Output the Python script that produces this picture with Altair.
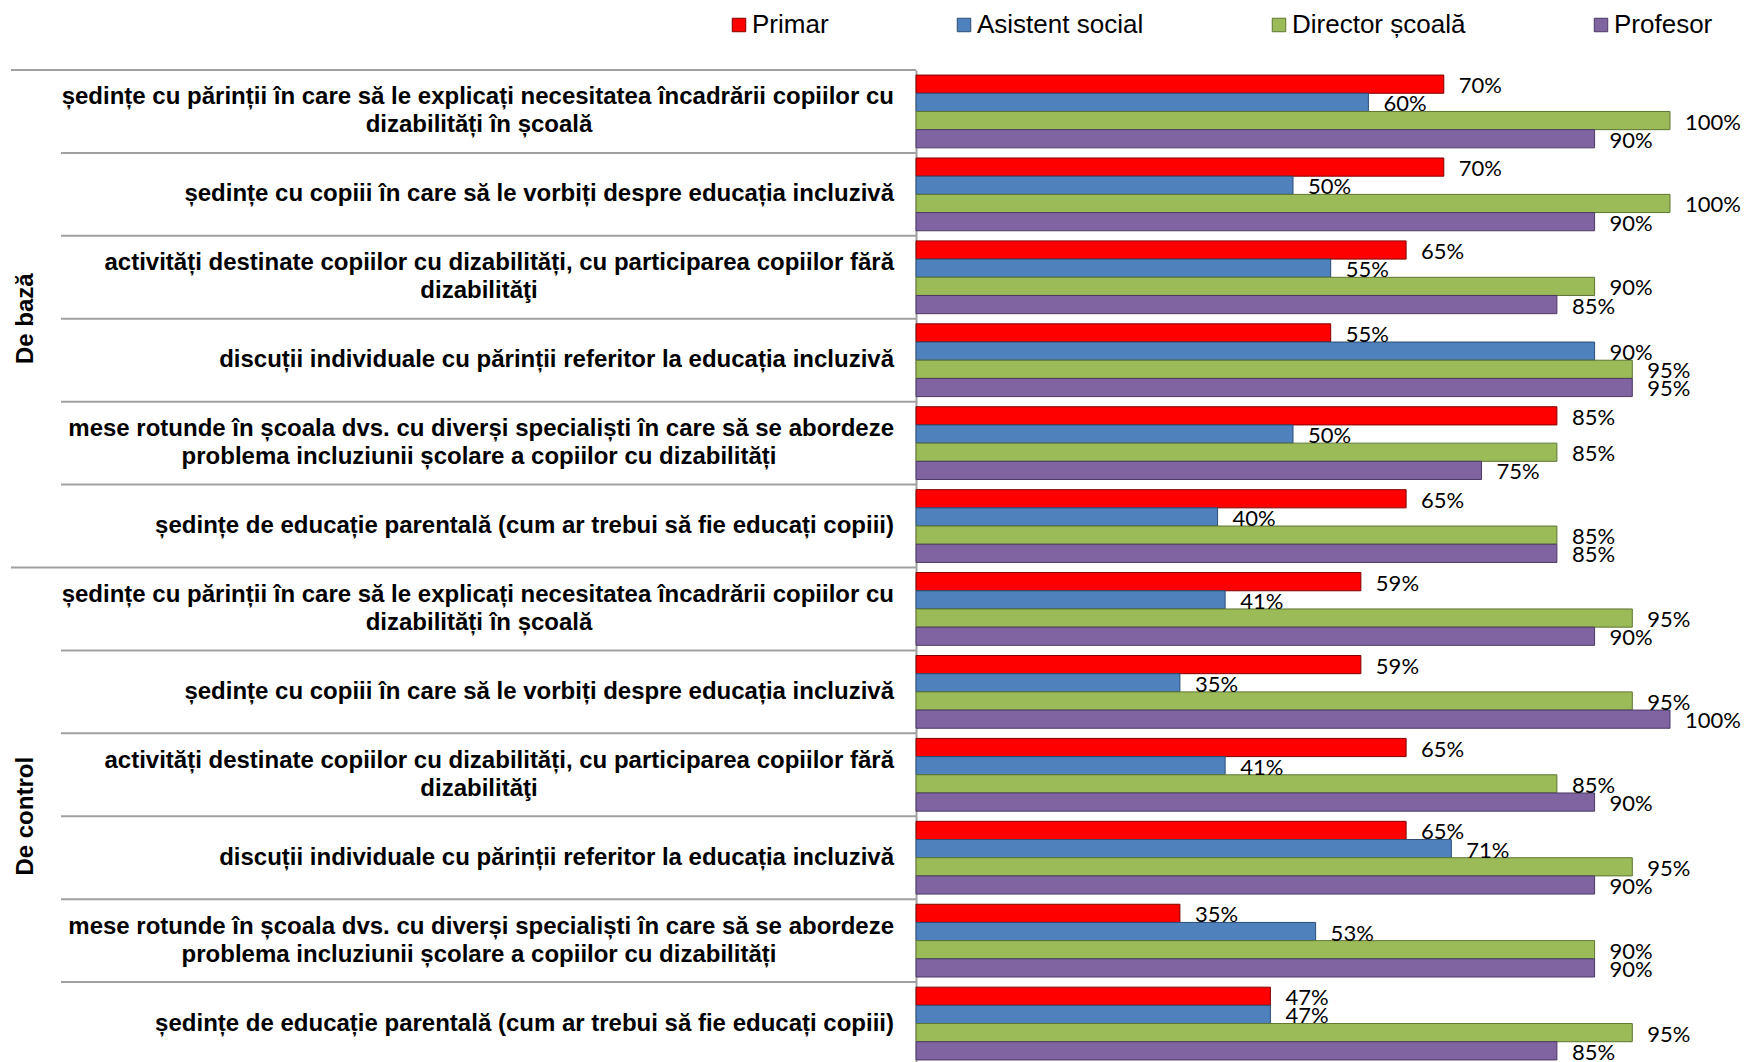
import altair as alt
import pandas as pd

groups = ["De bază", "De control"]
cat_line1 = [
    "ședințe cu părinții în care să le explicați necesitatea încadrării copiilor cu",
    "ședințe cu copiii în care să le vorbiți despre educația incluzivă",
    "activități destinate copiilor cu dizabilități, cu participarea copiilor fără",
    "discuții individuale cu părinții referitor la educația incluzivă",
    "mese rotunde în școala dvs. cu diverși specialiști în care să se abordeze",
    "ședințe de educație parentală (cum ar trebui să fie educați copiii)",
]
cat_line2 = [
    "dizabilități în școală",
    "",
    "dizabilităţi",
    "",
    "problema incluziunii școlare a copiilor cu dizabilități",
    "",
]
series = ["Primar", "Asistent social", "Director școală", "Profesor"]

primar_baza = [70, 70, 65, 55, 85, 65]
asistent_baza = [60, 50, 55, 90, 50, 40]
director_baza = [100, 100, 90, 95, 85, 85]
profesor_baza = [90, 90, 85, 95, 75, 85]

primar_control = [59, 59, 65, 65, 35, 47]
asistent_control = [41, 35, 41, 71, 53, 47]
director_control = [95, 95, 85, 95, 90, 95]
profesor_control = [90, 100, 90, 90, 90, 85]

fills = ["#FF0000", "#4F81BD", "#9BBB59", "#8064A2"]
strokes = ["#7F0000", "#2C4D75", "#5E7530", "#4B3A63"]

values = {
    "De bază": [primar_baza, asistent_baza, director_baza, profesor_baza],
    "De control": [primar_control, asistent_control, director_control, profesor_control],
}

keys = []
label_rows = []
bar_rows = []
for g in groups:
    for i in range(len(cat_line1)):
        k = f"{g}|{i}"
        keys.append(k)
        label_rows.append({"key": k, "group": g, "idx": i,
                           "line1": cat_line1[i], "line2": cat_line2[i],
                           "two": cat_line2[i] != "", "first": i == 0})
        for s_i, s in enumerate(series):
            v = values[g][s_i][i]
            bar_rows.append({"key": k, "series": s, "value": v, "label": f"{v}%"})

labels_df = pd.DataFrame(label_rows)
bars_df = pd.DataFrame(bar_rows)

# the bottom of the last group runs slightly past the visible page, as in the reference
yscale = alt.Scale(domain=keys, paddingInner=0, paddingOuter=0, range=[0, 995])
yaxis = alt.Axis(labels=False, ticks=False, title=None, grid=False,
                 domainColor="#a0a0a0", domainWidth=2)


def Y(**kw):
    return alt.Y("key:N", scale=yscale, axis=yaxis, sort=keys, **kw)


yoff = alt.YOffset("series:N", sort=series,
                   scale=alt.Scale(domain=series, paddingOuter=0.279, paddingInner=0))
xenc = alt.X("value:Q", scale=alt.Scale(domain=[0, 100]), axis=None)

leg = alt.Legend(orient="none", legendX=-190, legendY=-58, direction="horizontal",
                 title=None, symbolType="square", symbolSize=182, symbolStrokeWidth=1,
                 labelFont="Liberation Sans", labelFontSize=26, labelColor="black",
                 labelOffset=0, columnPadding=122, padding=0, labelLimit=0)

bars = alt.Chart(bars_df).mark_bar(strokeWidth=1).encode(
    x=xenc,
    y=Y(),
    yOffset=yoff,
    fill=alt.Fill("series:N", sort=series, scale=alt.Scale(domain=series, range=fills), legend=leg),
    stroke=alt.Stroke("series:N", sort=series, scale=alt.Scale(domain=series, range=strokes), legend=leg),
)

vlabels = alt.Chart(bars_df).mark_text(align="left", baseline="middle", dx=15, dy=2,
                                        font="Lato", fontSize=22, color="black").encode(
    x=xenc, y=Y(), yOffset=yoff, text="label:N")

catfont = dict(font="Liberation Sans", fontSize=24, fontWeight="bold", color="black")

single = alt.Chart(labels_df).transform_filter("!datum.two").mark_text(
    align="right", baseline="middle", **catfont).encode(
    x=alt.value(-22), y=Y(), text="line1:N")

first_line = alt.Chart(labels_df).transform_filter("datum.two").mark_text(
    align="right", baseline="middle", dy=-14, **catfont).encode(
    x=alt.value(-22), y=Y(), text="line1:N")

second_line = alt.Chart(labels_df).transform_filter("datum.two").mark_text(
    align="center", baseline="middle", dy=14, **catfont).encode(
    x=alt.value(-437), y=Y(), text="line2:N")

outer_rules = alt.Chart(labels_df).transform_filter("datum.first").mark_rule(
    color="#a0a0a0", strokeWidth=2).encode(
    y=Y(bandPosition=0), x=alt.value(-905), x2=alt.value(0))

inner_rules = alt.Chart(labels_df).transform_filter("!datum.first").mark_rule(
    color="#a0a0a0", strokeWidth=2).encode(
    y=Y(bandPosition=0), x=alt.value(-855), x2=alt.value(0))

group_labels = alt.Chart(labels_df).transform_filter("datum.idx == 2").mark_text(
    angle=270, align="center", baseline="middle", **catfont).encode(
    x=alt.value(-890), y=Y(bandPosition=1), text="group:N")

chart = alt.layer(outer_rules, inner_rules, bars, vlabels, single, first_line,
                  second_line, group_labels).properties(
    width=754, height=992,
    autosize=alt.AutoSizeParams(type="none"),
    padding={"left": 908, "top": 62, "right": 72, "bottom": 0},
    background="white",
).configure_view(stroke=None)

chart.save("out.html", embed_options={"renderer": "svg", "actions": False})
